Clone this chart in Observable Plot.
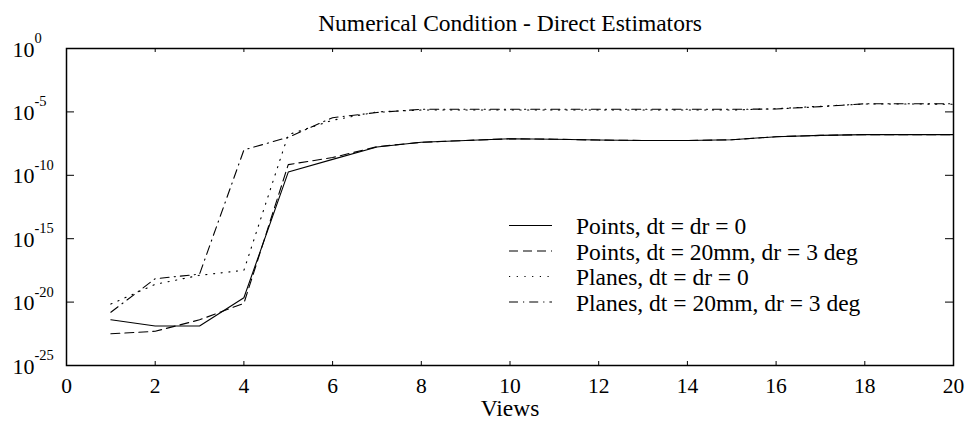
<!DOCTYPE html>
<html><head><meta charset="utf-8">
<script src="https://cdn.jsdelivr.net/npm/d3@7"></script>
<script src="https://cdn.jsdelivr.net/npm/@observablehq/plot@0.6"></script>
<style>
html,body{margin:0;padding:0;background:#fff}
#chart svg, #chart svg text, #chart svg tspan{font-family:"Liberation Serif","Times New Roman",Times,serif !important}
</style>
</head><body><div id="chart"></div>
<script>
// ---- data ----
const views = [1,2,3,4,5,6,7,8,9,10,11,12,13,14,15,16,17,18,19,20];
const pointsExact = [4e-22,1.3e-22,1.3e-22,2.2e-20,1.8e-10,1.8e-9,1.7e-8,4e-8,5.6e-8,7.6e-8,7e-8,6e-8,5.6e-8,5.6e-8,6.3e-8,1.1e-7,1.4e-7,1.6e-7,1.6e-7,1.6e-7];
const pointsNoisy = [3.2e-23,5e-23,4e-22,8e-21,7e-10,2.5e-9,1.8e-8,4e-8,5.6e-8,7.6e-8,7e-8,6e-8,5.6e-8,5.6e-8,6.3e-8,1.1e-7,1.4e-7,1.6e-7,1.6e-7,1.6e-7];
const planesExact = [7e-21,2.5e-19,1.3e-18,3.2e-18,1.6e-7,2.2e-6,1e-5,1.4e-5,1.4e-5,1.4e-5,1.4e-5,1.4e-5,1.4e-5,1.4e-5,1.4e-5,1.8e-5,2.8e-5,4.2e-5,4.2e-5,4e-5];
const planesNoisy = [1.6e-21,7e-19,1.6e-18,1e-8,1e-7,3.5e-6,9e-6,1.6e-5,1.6e-5,1.6e-5,1.6e-5,1.6e-5,1.6e-5,1.6e-5,1.6e-5,1.7e-5,2.6e-5,4.4e-5,4.4e-5,4.4e-5];
const seriesNames = ["Points, dt = dr = 0","Points, dt = 20mm, dr = 3 deg","Planes, dt = dr = 0","Planes, dt = 20mm, dr = 3 deg"];
const seriesValues = [pointsExact, pointsNoisy, planesExact, planesNoisy];
const seriesDash = [null, "9,5", "1.2,6.5", "9,5,1.2,5"];
const xTicks = [0,2,4,6,8,10,12,14,16,18,20];
const yTicks = [1e-25,1e-20,1e-15,1e-10,1e-5,1];
const yTickExps = ["-25","-20","-15","-10","-5","0"];
const title = "Numerical Condition - Direct Estimators";
const xLabel = "Views";

// ---- layout ----
const W = 967, H = 421, mL = 66, mR = 14, mT = 48, mB = 56;
const plotW = W - mL - mR, plotH = H - mT - mB;

const rows = seriesNames.flatMap((name, s) => views.map((v, i) => ({series: s, name, x: v, y: seriesValues[s][i]})));

const lineMarks = seriesNames.map((name, s) =>
  Plot.line(rows.filter(d => d.series === s), {x: "x", y: "y", stroke: "#000", strokeWidth: 1.1, strokeDasharray: seriesDash[s]})
);

const plot = Plot.plot({
  width: W, height: H,
  marginLeft: mL, marginRight: mR, marginTop: mT, marginBottom: mB,
  style: {fontSize: "22px", background: "#fff", color: "#000", overflow: "visible"},
  x: {domain: [0, 20]},
  y: {type: "log", domain: [1e-25, 1]},
  marks: [
    Plot.ruleX(xTicks, {x: d => d, insetTop: plotH - 4, stroke: "#000", strokeWidth: 1}),
    Plot.ruleX(xTicks, {x: d => d, insetBottom: plotH - 4, stroke: "#000", strokeWidth: 1}),
    Plot.ruleY(yTicks, {y: d => d, insetRight: plotW - 8, stroke: "#000", strokeWidth: 1}),
    Plot.ruleY(yTicks, {y: d => d, insetLeft: plotW - 8, stroke: "#000", strokeWidth: 1}),
    ...lineMarks,
    Plot.frame({stroke: "#000", strokeWidth: 1.5}),
    Plot.axisX(xTicks, {anchor: "bottom", tickSize: 0, tickPadding: 12, label: null, tickFormat: d => String(d), fontSize: 21.5}),
    Plot.axisY(yTicks, {anchor: "left", tickSize: 0, tickPadding: 54, textAnchor: "start", label: null, dy: 1,
      tickFormat: d => "10^" + yTickExps[yTicks.indexOf(d)], fontSize: 22}),
    Plot.text([title], {frameAnchor: "top", lineAnchor: "middle", dy: -25.5, text: d => d, fontSize: 23.5}),
    Plot.text([xLabel], {frameAnchor: "bottom", lineAnchor: "middle", dy: 42.5, text: d => d, fontSize: 23.5})
  ]
});

document.getElementById("chart").appendChild(plot);
const svg = d3.select(plot.tagName.toLowerCase() === "svg" ? plot : plot.querySelector("svg"));

svg.selectAll('g[aria-label="y-axis tick label"] text').each(function () {
  const parts = this.textContent.split("^");
  const t = d3.select(this);
  t.text(null);
  t.append("tspan").text(parts[0]);
  t.append("tspan").attr("dy", -13.5).attr("font-size", "14.5px").text(parts[1]);
});

const lg = svg.append("g").attr("aria-label", "legend").attr("text-anchor", "start");
seriesNames.forEach((name, s) => {
  const base = 234 + 25.5 * s;
  lg.append("line").attr("x1", 509).attr("x2", 552).attr("y1", base - 8.5).attr("y2", base - 8.5)
    .attr("stroke", "#000").attr("stroke-width", 1.1).attr("stroke-dasharray", seriesDash[s]);
  lg.append("text").attr("x", 576).attr("y", base).attr("font-size", 23.5).attr("fill", "#000")
    .attr("text-anchor", "start").text(name);
});
</script>
</body></html>
